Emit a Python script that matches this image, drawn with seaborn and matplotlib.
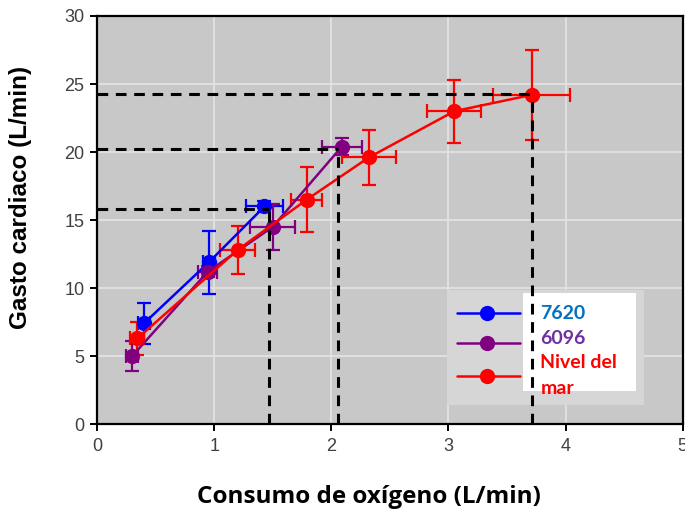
import matplotlib
matplotlib.use("Agg")
import matplotlib.pyplot as plt
import seaborn as sns
import pandas as pd
from matplotlib.patches import Rectangle
from matplotlib.lines import Line2D

# ---- data ----
x_7620 = [0.40, 0.955, 1.43]
y_7620 = [7.4, 11.9, 16.0]
xerr_7620 = [0.05, 0.05, 0.16]
yerr_7620 = [1.5, 2.3, 0.4]

x_6096 = [0.30, 0.945, 1.50, 2.09]
y_6096 = [5.0, 11.2, 14.5, 20.4]
xerr_6096 = [0.05, 0.08, 0.19, 0.17]
yerr_6096 = [1.1, 0.4, 1.7, 0.6]

x_mar = [0.345, 1.20, 1.79, 2.32, 3.05, 3.71]
y_mar = [6.3, 12.8, 16.5, 19.6, 23.0, 24.2]
xerr_mar = [0.06, 0.15, 0.135, 0.23, 0.23, 0.33]
yerr_mar = [1.2, 1.8, 2.4, 2.0, 2.3, 3.3]

# reference (dashed) lines: x position and y level
ref_x = [1.47, 2.06, 3.71]
ref_y = [15.8, 20.2, 24.3]

labels = ["7620", "6096", "Nivel del", "mar"]
line_colors = ["#0000ff", "#800080", "#ff0000"]
text_colors = ["#0070c0", "#7030a0", "#ff0000", "#ff0000"]

xticks = [0, 1, 2, 3, 4, 5]
yticks = [0, 5, 10, 15, 20, 25, 30]

sns.set_theme(style="white")
plt.rcParams["font.family"] = ["Liberation Sans", "DejaVu Sans"]

fig = plt.figure(figsize=(6.85, 5.16), dpi=100)
ax = fig.add_axes([0.1416, 0.178, 0.855, 0.791])
ax.set_facecolor("#c8c8c8")

series = [
    (x_7620, y_7620, xerr_7620, yerr_7620),
    (x_6096, y_6096, xerr_6096, yerr_6096),
    (x_mar, y_mar, xerr_mar, yerr_mar),
]
frames = []
for lab, (xs, ys, _, _) in zip(["7620", "6096", "mar"], series):
    frames.append(pd.DataFrame({"x": xs, "y": ys, "g": lab}))
df = pd.concat(frames)

# error bars first
for (xs, ys, xe, ye), c in zip(series, line_colors):
    ax.errorbar(xs, ys, xerr=xe, yerr=ye, fmt="none", ecolor=c,
                elinewidth=1.6, capsize=5, capthick=1.6, zorder=3)

sns.lineplot(data=df, x="x", y="y", hue="g", palette=line_colors,
             marker="o", markersize=11, markeredgewidth=0, linewidth=1.8,
             sort=False, estimator=None, legend=False, ax=ax, zorder=4)

# dashed reference lines
for rx, ry in zip(ref_x, ref_y):
    ax.plot([0, rx], [ry, ry], ls=(0, (3.5, 2.5)), color="black", lw=2.2, zorder=7)
    ax.plot([rx, rx], [0, ry], ls=(0, (3.5, 2.5)), color="black", lw=2.2, zorder=7)

ax.set_xlim(0, 5)
ax.set_ylim(0, 30)
ax.set_xticks(xticks)
ax.set_yticks(yticks)
ax.set_xlabel("")
ax.set_ylabel("")
ax.grid(True, color="#e2e2e2", lw=1.3)
ax.set_axisbelow(True)
for s in ax.spines.values():
    s.set_color("black")
    s.set_linewidth(1.6)
ax.tick_params(axis="both", direction="out", length=5, width=1.4, color="black",
               labelsize=13, labelcolor="#404040", pad=4)
ax.tick_params(axis="x", bottom=True, top=False, pad=5)
ax.tick_params(axis="y", left=True, right=False)

# legend (manual, in axes coordinates)
ax.add_patch(Rectangle((0.597, 0.047), 0.337, 0.281, transform=ax.transAxes,
                       facecolor="#d6d6d6", edgecolor="none", zorder=5))
ax.add_patch(Rectangle((0.727, 0.081), 0.194, 0.24, transform=ax.transAxes,
                       facecolor="white", edgecolor="none", zorder=5.5))
leg_y = [0.272, 0.199, 0.118]
for yy, c in zip(leg_y, line_colors):
    ax.add_line(Line2D([0.614, 0.722], [yy, yy], transform=ax.transAxes, color=c,
                       lw=1.8, zorder=6))
    ax.plot([0.666], [yy], transform=ax.transAxes, marker="o", ms=11,
            color=c, mew=0, zorder=6.5)
text_y = [0.272, 0.209, 0.150, 0.088]
for ty, lab, tc in zip(text_y, labels, text_colors):
    ax.text(0.757, ty, lab, transform=ax.transAxes,
            color=tc, fontsize=14, fontweight="bold",
            family=["Lato", "DejaVu Sans"], va="center", ha="left", zorder=6)

fig.text(0.03, 0.618, "Gasto cardiaco (L/min)", rotation=90, ha="center",
         va="center", fontsize=17.5, fontweight="bold", color="black",
         family=["Liberation Sans", "DejaVu Sans"])
fig.text(0.539, 0.037, "Consumo de oxígeno (L/min)", ha="center", va="center",
         fontsize=17.5, fontweight="bold", color="black",
         family=["Open Sans", "DejaVu Sans"])

fig.savefig("out.png", dpi=100, facecolor="white")
